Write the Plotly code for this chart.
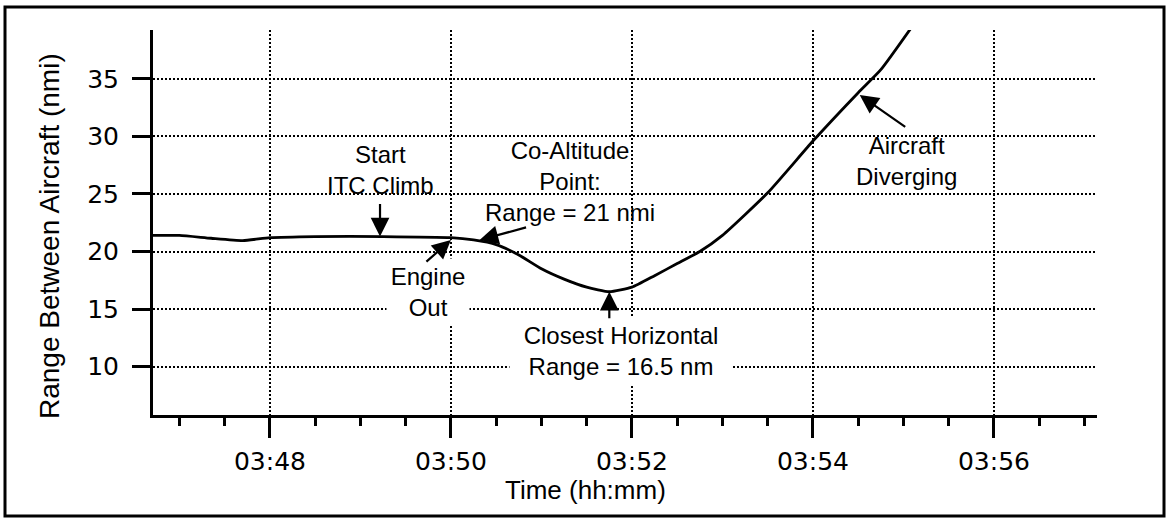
import plotly.graph_objects as go

DAY = "2000-01-01 "

# Range between the two aircraft over time
times = ["03:46:42", "03:47:00", "03:47:21", "03:47:42", "03:48:00", "03:48:30",
         "03:49:15", "03:50:00", "03:50:15", "03:50:30", "03:50:45", "03:51:00",
         "03:51:15", "03:51:30", "03:51:45", "03:52:00", "03:52:15", "03:52:30",
         "03:52:45", "03:53:00", "03:53:30", "03:54:00", "03:54:30", "03:54:45",
         "03:55:06"]
range_nmi = [21.4, 21.4, 21.15, 20.95, 21.2, 21.3,
             21.3, 21.2, 21.0, 20.6, 19.7, 18.5,
             17.6, 16.9, 16.5, 16.9, 17.9, 18.95,
             20.0, 21.4, 25.1, 29.6, 33.8, 35.8,
             39.6]

x_tick_labels = ["03:48", "03:50", "03:52", "03:54", "03:56"]
y_ticks = [10, 15, 20, 25, 30, 35]

# Callout texts: (text, time, range, white background box width)
callout_texts = [
    ("Start<br>ITC Climb", "03:49:13", 27.1, None),
    ("Co-Altitude<br>Point:<br>Range = 21 nmi", "03:51:19", 26.1, None),
    ("Engine<br>Out", "03:49:45", 16.5, 74),
    ("Closest Horizontal<br>Range = 16.5 nm", "03:51:53", 11.35, 214),
    ("Aircraft<br>Diverging", "03:55:02", 27.85, None),
]
# Callout arrows: (head time, head range, tail offset x px, tail offset y px)
callout_arrows = [
    ("03:49:13", 21.3, 0, -34),
    ("03:50:00", 21.0, -26, 23),
    ("03:50:19", 21.0, 48, -13),
    ("03:51:45", 16.5, 0, 28),
    ("03:54:31", 33.6, 47, 33),
]

FONT = "Liberation Sans, Arial, Helvetica, sans-serif"
TICK_FONT = "DejaVu Sans, Liberation Sans, sans-serif"
W, H = 1167, 519
L, R, T, B = 153, 70, 30, 104
PW, PH = W - L - R, H - T - B


def px_to_paper(px, py):
    return (px - L) / PW, (H - B - py) / PH


fig = go.Figure()
fig.add_trace(go.Scatter(
    x=[DAY + t for t in times], y=range_nmi,
    mode="lines", line=dict(color="black", width=2.8, shape="spline", smoothing=0.5),
    hoverinfo="skip", showlegend=False,
))

annotations = []
for text, t, v, box_w in callout_texts:
    ann = dict(
        x=DAY + t, y=v, xref="x", yref="y", text=text, showarrow=False,
        xanchor="center", yanchor="middle",
        font=dict(family=FONT, size=24, color="black"), align="center",
    )
    if box_w:
        ann.update(bgcolor="white", borderpad=4, width=box_w)
    annotations.append(ann)
for t, v, ax, ay in callout_arrows:
    annotations.append(dict(
        x=DAY + t, y=v, xref="x", yref="y", text="", showarrow=True,
        ax=ax, ay=ay, arrowhead=2, arrowsize=1.7, arrowwidth=2.2,
        arrowcolor="black", standoff=0, startstandoff=0,
    ))

# Axis titles
tx, ty = px_to_paper(585, 490)
annotations.append(dict(x=tx, y=ty, xref="paper", yref="paper", text="Time (hh:mm)",
                        xanchor="center", yanchor="middle", showarrow=False,
                        font=dict(family=FONT, size=26, color="black")))
yx, yy = px_to_paper(50, 236)
annotations.append(dict(x=yx, y=yy, xref="paper", yref="paper",
                        text="Range Between Aircraft (nmi)", textangle=-90,
                        xanchor="center", yanchor="middle", showarrow=False,
                        font=dict(family=FONT, size=28, color="black")))

# Outer frame
bx0, by0 = px_to_paper(5, 516)
bx1, by1 = px_to_paper(1164, 7)
shapes = [dict(type="rect", xref="paper", yref="paper", x0=bx0, y0=by0, x1=bx1, y1=by1,
               line=dict(color="black", width=3), fillcolor="rgba(0,0,0,0)")]

fig.update_layout(
    width=W, height=H, autosize=False,
    margin=dict(l=L, r=R, t=T, b=B, pad=0),
    paper_bgcolor="white", plot_bgcolor="white",
    font=dict(family=FONT, color="black"),
    annotations=annotations, shapes=shapes,
    xaxis=dict(
        type="date",
        range=[DAY + "03:46:42.5", DAY + "03:57:08.3"],
        tickvals=[DAY + s for s in x_tick_labels], ticktext=x_tick_labels,
        ticks="outside", ticklen=20, tickwidth=3, tickcolor="black",
        tickfont=dict(family=TICK_FONT, size=25, color="black"), ticklabelstandoff=2,
        showline=True, linecolor="black", linewidth=3,
        showgrid=True, gridcolor="black", gridwidth=2, griddash="2px,2px",
        minor=dict(ticks="outside", ticklen=8, tickwidth=2.5, tickcolor="black",
                   dtick=30000, tick0=DAY + "03:48:00", showgrid=False),
        zeroline=False, fixedrange=True,
    ),
    yaxis=dict(
        range=[5.79, 39.25],
        tickvals=y_ticks,
        ticks="outside", ticklen=18, tickwidth=3, tickcolor="black",
        tickfont=dict(family=TICK_FONT, size=25, color="black"), ticklabelstandoff=8,
        showline=True, linecolor="black", linewidth=3,
        showgrid=True, gridcolor="black", gridwidth=2, griddash="2px,2px",
        zeroline=False, fixedrange=True,
    ),
)

fig.write_html("out.html", config={"displayModeBar": False})
